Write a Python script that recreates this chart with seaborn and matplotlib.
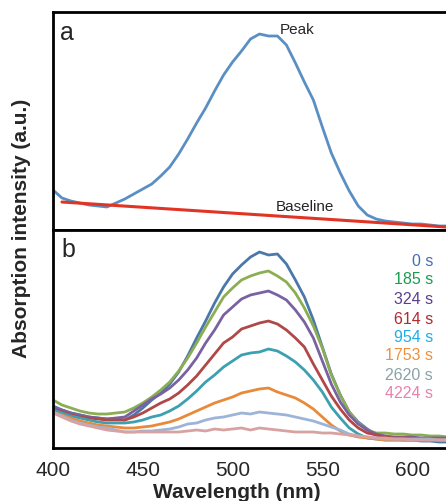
import numpy as np
import pandas as pd
import matplotlib
matplotlib.use("Agg")
import matplotlib.pyplot as plt
import seaborn as sns

# wavelength grid (nm)
wavelength = np.arange(400, 630, 5)

# panel a: single spectrum and the baseline
peak_a = [40, 32, 29, 27, 25, 24, 23, 27, 31, 36, 41, 46, 54, 63, 76, 91,
          107, 122, 139, 155, 168, 179, 191, 196, 194, 194, 185, 167, 148,
          130, 103, 77, 57, 39, 24, 15, 11, 9, 8, 7, 6, 6, 5, 4, 4, 4]
baseline_x = [405, 625]
baseline_y = [28, 2.3]

# panel b: spectra over time
times = ["0 s", "185 s", "324 s", "614 s", "954 s", "1753 s", "2620 s", "4224 s"]
spectra = {
    "0 s": [42, 38, 35, 33, 31, 30, 29, 29, 28, 33, 40, 48, 55, 64, 76, 92,
            110, 127, 145, 161, 174, 183, 191, 196, 193, 194, 184, 168, 151,
            128, 101, 74, 53, 36, 26, 19, 13, 11, 9, 8, 8, 7, 7, 6, 6, 6],
    "185 s": [48, 43, 40, 37, 35, 34, 34, 35, 36, 40, 45, 51, 58, 66, 77, 90,
              105, 121, 136, 151, 160, 168, 172, 175, 177, 172, 166, 155, 140,
              122, 100, 73, 53, 36, 25, 18, 15, 15, 14, 14, 13, 13, 12, 12, 11, 11],
    "324 s": [41, 38, 35, 33, 31, 30, 29, 30, 31, 37, 43, 49, 54, 60, 68, 78,
              90, 105, 118, 133, 141, 149, 153, 155, 157, 153, 148, 138, 126,
              110, 87, 64, 46, 33, 24, 18, 14, 12, 11, 11, 11, 10, 10, 10, 10, 10],
    "614 s": [39, 36, 33, 31, 30, 29, 28, 28, 28, 31, 35, 40, 45, 49, 55, 63,
              72, 83, 94, 105, 111, 119, 122, 125, 127, 124, 118, 110, 101,
              84, 68, 52, 39, 28, 20, 15, 13, 11, 10, 10, 10, 9, 9, 9, 9, 9],
    "954 s": [38, 35, 32, 30, 28, 26, 25, 25, 25, 26, 28, 31, 33, 37, 42, 49,
              57, 66, 73, 81, 87, 93, 95, 96, 99, 97, 92, 86, 78,
              68, 56, 41, 30, 20, 14, 10, 9, 8, 8, 8, 8, 8, 8, 8, 8, 8],
    "1753 s": [36, 33, 30, 27, 25, 23, 22, 21, 20, 20, 21, 22, 24, 26, 29, 33,
               37, 41, 45, 48, 51, 55, 57, 59, 60, 56, 53, 50, 45,
               39, 31, 23, 17, 13, 11, 10, 9, 8, 8, 8, 8, 8, 8, 8, 8, 8],
    "2620 s": [36, 32, 28, 25, 23, 21, 20, 18, 16, 16, 17, 17, 18, 19, 21, 24,
               25, 28, 30, 31, 33, 35, 34, 36, 35, 34, 33, 31, 29,
               27, 24, 21, 18, 14, 12, 11, 10, 9, 9, 9, 9, 9, 9, 8, 8, 8],
    "4224 s": [35, 31, 27, 24, 22, 20, 18, 17, 16, 16, 16, 16, 16, 16, 16, 17,
               18, 17, 19, 18, 19, 20, 18, 20, 19, 18, 17, 16, 16,
               16, 15, 15, 14, 13, 12, 11, 10, 10, 9, 9, 8, 8, 8, 8, 8, 8],
}
line_colors = ["#4a78aa", "#8cae52", "#7a62a2", "#b04848", "#3ca0b0",
               "#e88a3a", "#9db4d8", "#d8a2a2"]
text_colors = ["#3f6fb5", "#1a9e4e", "#5b3f8f", "#b02a30", "#1eaee8",
               "#f0903a", "#8aa2a8", "#e882aa"]

sns.set_style("white")
plt.rcParams['font.family'] = ['Liberation Sans', 'DejaVu Sans']

W, H = 446, 501
fig = plt.figure(figsize=(W / 100, H / 100), dpi=100)

def px_axes(x0, y0, x1, y1):
    return fig.add_axes([x0 / W, 1 - y1 / H, (x1 - x0) / W, (y1 - y0) / H])

# right edge of the axes runs past the figure, as in the cropped original
ax1 = px_axes(53, 12, 457, 230)
ax2 = px_axes(53, 230, 457, 448)

df_a = pd.DataFrame({"wl": wavelength, "val": peak_a})
sns.lineplot(data=df_a, x="wl", y="val", ax=ax1, color="#5a8fc4", lw=2, sort=False)
df_base = pd.DataFrame({"wl": baseline_x, "val": baseline_y})
sns.lineplot(data=df_base, x="wl", y="val", ax=ax1, color="#e03525", lw=2.2, sort=False)

rows = []
for t in times:
    for w, v in zip(wavelength, spectra[t]):
        rows.append({"wl": w, "val": v, "time": t})
df_b = pd.DataFrame(rows)
sns.lineplot(data=df_b, x="wl", y="val", hue="time", hue_order=times,
             palette=dict(zip(times, line_colors)), ax=ax2, lw=2, sort=False,
             legend=False)

for ax in (ax1, ax2):
    ax.set_xlim(400, 625)
    ax.set_ylim(0, 218)
    ax.set_xlabel("")
    ax.set_ylabel("")
    ax.set_yticks([])
    ax.set_xticks([400, 450, 500, 550, 600])
    ax.set_xticks([425, 475, 525, 575], minor=True)
    ax.tick_params(axis="x", which="both", direction="in", length=4, width=1.2,
                   color="black", labelsize=15, pad=9)
    for s in ax.spines.values():
        s.set_linewidth(2)
        s.set_color("black")
ax1.tick_params(axis="x", labelbottom=False)

fig.text(60 / W, 1 - 40 / H, "a", fontsize=18, ha="left", va="baseline")
fig.text(61 / W, 1 - 257 / H, "b", fontsize=18, ha="left", va="baseline")
fig.text(280 / W, 1 - 30 / H, "Peak", fontsize=11, ha="left", va="center")
fig.text(276 / W, 1 - 207 / H, "Baseline", fontsize=11, ha="left", va="center")

legend_y = [261, 280, 299, 319, 338, 356, 375, 394]
for t, c, y in zip(times, text_colors, legend_y):
    fig.text(433 / W, 1 - y / H, t, fontsize=11.5, color=c, ha="right", va="center")

fig.text(237 / W, 1 - 492 / H, "Wavelength (nm)", fontsize=15, fontweight="bold",
         ha="center", va="center")
fig.text(22 / W, 1 - 228 / H, "Absorption intensity (a.u.)", fontsize=15,
         fontweight="bold", rotation=90, ha="center", va="center")

fig.savefig("out.png", dpi=100)
